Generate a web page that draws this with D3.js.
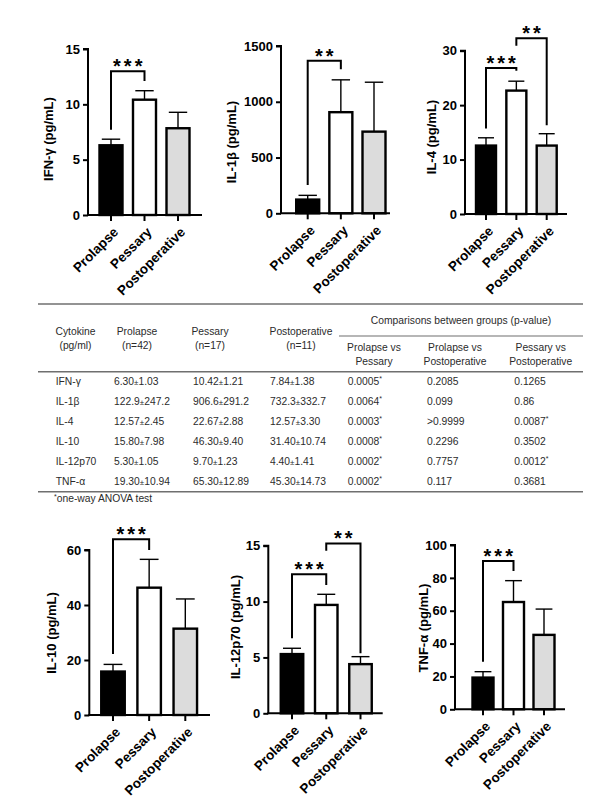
<!DOCTYPE html>
<html><head><meta charset="utf-8">
<script src="https://cdn.jsdelivr.net/npm/d3@7"></script>
<style>body{margin:0;background:#fff;} svg{display:block;}</style>
</head><body>
<svg id="c" width="600" height="799"></svg>
<script>
// ---------- DATA ----------
const groups = ["Prolapse", "Pessary", "Postoperative"];
const cytokines = ["IFN-γ", "IL-1β", "IL-4", "IL-10", "IL-12p70", "TNF-α"];
const yLabels = ["IFN-γ (pg/mL)", "IL-1β (pg/mL)", "IL-4 (pg/mL)", "IL-10 (pg/mL)", "IL-12p70 (pg/mL)", "TNF-α (pg/mL)"];
const barMeans = [
  [6.30, 10.42, 7.84],
  [122.9, 906.6, 732.3],
  [12.57, 22.67, 12.57],
  [15.80, 46.30, 31.40],
  [5.30, 9.70, 4.40],
  [19.30, 65.30, 45.30]
];
// upper error whiskers
const barErrors = [
  [0.55, 0.81, 1.44],
  [38, 290, 443],
  [1.43, 1.73, 2.18],
  [2.6, 10.3, 10.8],
  [0.52, 0.95, 0.67],
  [3.6, 13.0, 15.7]
];
const yMax = [15, 1500, 30, 60, 15, 100];
const yStep = [5, 500, 10, 20, 5, 20];
// significance brackets: from group a to b, bar height y, left leg end l, right leg end r (data units)
const sigBrackets = [
  [{a: 0, b: 1, y: 13.0, l: 7.7, r: 12.1, t: "***"}],
  [{a: 0, b: 1, y: 1368, l: 254, r: 1291, t: "**"}],
  [{a: 0, b: 1, y: 26.8, l: 15.7, r: 26.3, t: "***"}, {a: 1, b: 2, y: 32.3, l: 30.9, r: 16.3, t: "**"}],
  [{a: 0, b: 1, y: 63.9, l: 22.2, r: 60, t: "***"}],
  [{a: 0, b: 1, y: 12.44, l: 6.71, r: 11.48, t: "***"}, {a: 1, b: 2, y: 15.2, l: 14.55, r: 5.37, t: "**"}],
  [{a: 0, b: 1, y: 90.3, l: 29, r: 84.2, t: "***"}]
];
// table
const tableHeaders = [["Cytokine", "(pg/ml)"], ["Prolapse", "(n=42)"], ["Pessary", "(n=17)"], ["Postoperative", "(n=11)"]];
const compHeaders = [["Prolapse vs", "Pessary"], ["Prolapse vs", "Postoperative"], ["Pessary vs", "Postoperative"]];
const prolapseCol = ["6.30±1.03", "122.9±247.2", "12.57±2.45", "15.80±7.98", "5.30±1.05", "19.30±10.94"];
const pessaryCol = ["10.42±1.21", "906.6±291.2", "22.67±2.88", "46.30±9.40", "9.70±1.23", "65.30±12.89"];
const postopCol = ["7.84±1.38", "732.3±332.7", "12.57±3.30", "31.40±10.74", "4.40±1.41", "45.30±14.73"];
const pProlPess = ["0.0005", "0.0064", "0.0003", "0.0008", "0.0002", "0.0002"];
const pProlPost = ["0.2085", "0.099", ">0.9999", "0.2296", "0.7757", "0.117"];
const pPessPost = ["0.1265", "0.86", "0.0087", "0.3502", "0.0012", "0.3681"];
const barFills = ["#000000", "#ffffff", "#dcdcdc"];

// ---------- LAYOUT ----------
const layout = [
  {ax: 88, xEnd: 202, c0: 111, c2: 178, bw: 23, y0: 215, yT: 49, lx: 48, ly: 139},
  {ax: 281, xEnd: 390, c0: 307.7, c2: 374, bw: 23, y0: 213.3, yT: 46, lx: 231.7, ly: 142},
  {ax: 465, xEnd: 567, c0: 486, c2: 546.7, bw: 20, y0: 214, yT: 50.7, lx: 431.7, ly: 137},
  {ax: 89.3, xEnd: 210, c0: 113, c2: 185.3, bw: 23.5, y0: 715, yT: 550, lx: 51.7, ly: 633},
  {ax: 268.3, xEnd: 382.7, c0: 292, c2: 360.5, bw: 22.5, y0: 713.3, yT: 545.7, lx: 235, ly: 627},
  {ax: 455, xEnd: 565, c0: 483, c2: 544, bw: 21, y0: 709.3, yT: 545, lx: 423.3, ly: 628}
];
const FONT = "'Liberation Sans', Arial, sans-serif";
const svg = d3.select("#c");
svg.append("rect").attr("width", 600).attr("height", 799).attr("fill", "#fff");

layout.forEach((L, i) => {
  const g = svg.append("g");
  const x = d3.scalePoint().domain(groups).range([L.c0, L.c2]);
  const y = d3.scaleLinear().domain([0, yMax[i]]).range([L.y0, L.yT]);
  const data = groups.map((k, j) => ({k, m: barMeans[i][j], e: barErrors[i][j], f: barFills[j]}));

  // error bars (upper only)
  g.selectAll("line.err").data(data).enter().append("line")
    .attr("x1", d => x(d.k)).attr("x2", d => x(d.k))
    .attr("y1", d => y(d.m)).attr("y2", d => y(d.m + d.e))
    .attr("stroke", "#000").attr("stroke-width", 1.4);
  g.selectAll("line.cap").data(data).enter().append("line")
    .attr("x1", d => x(d.k) - L.bw * 0.4).attr("x2", d => x(d.k) + L.bw * 0.4)
    .attr("y1", d => y(d.m + d.e)).attr("y2", d => y(d.m + d.e))
    .attr("stroke", "#000").attr("stroke-width", 1.4);
  // bars
  g.selectAll("rect.bar").data(data).enter().append("rect")
    .attr("x", d => x(d.k) - L.bw / 2).attr("width", L.bw)
    .attr("y", d => y(d.m)).attr("height", d => y(0) - y(d.m))
    .attr("fill", d => d.f).attr("stroke", "#000").attr("stroke-width", 2.4);

  // y axis
  const yAxis = d3.axisLeft(y).tickValues(d3.range(0, yMax[i] + 1e-9, yStep[i])).tickSize(5).tickPadding(3).tickFormat(d3.format("d"));
  const ya = g.append("g").attr("transform", `translate(${L.ax},0)`).call(yAxis);
  ya.select(".domain").attr("stroke-width", 2).attr("d", `M-5,${L.yT}H0V${L.y0}`);
  ya.selectAll(".tick line").attr("stroke-width", 2);
  ya.selectAll(".tick text").attr("font-family", FONT).attr("font-size", 13).attr("font-weight", "bold").attr("fill", "#000");

  // x axis line
  g.append("line").attr("x1", L.ax - 1).attr("x2", L.xEnd).attr("y1", L.y0).attr("y2", L.y0)
    .attr("stroke", "#000").attr("stroke-width", 2);
  g.selectAll("line.xt").data(groups).enter().append("line")
    .attr("x1", d => x(d)).attr("x2", d => x(d)).attr("y1", L.y0).attr("y2", L.y0 + 6)
    .attr("stroke", "#000").attr("stroke-width", 2);
  g.selectAll("text.xl").data(groups).enter().append("text")
    .attr("transform", d => `translate(${x(d) + 8},${L.y0 + 18}) rotate(-45)`)
    .attr("text-anchor", "end").attr("font-family", FONT).attr("font-size", 13.5).attr("font-weight", "bold")
    .text(d => d);

  // y label
  g.append("text").attr("transform", `translate(${L.lx},${L.ly}) rotate(-90)`)
    .attr("text-anchor", "middle").attr("dy", "0.35em")
    .attr("font-family", FONT).attr("font-size", 13).attr("font-weight", "bold").text(yLabels[i]);

  // significance brackets
  sigBrackets[i].forEach(b => {
    const xa = x(groups[b.a]), xb = x(groups[b.b]);
    g.append("path").attr("d", `M${xa},${y(b.l)}V${y(b.y)}H${xb}V${y(b.r)}`)
      .attr("fill", "none").attr("stroke", "#000").attr("stroke-width", 2);
    g.append("text").attr("x", (xa + xb) / 2 + 1.5).attr("y", y(b.y) + 2)
      .attr("text-anchor", "middle").attr("font-family", FONT).attr("font-size", 20).attr("font-weight", "bold")
      .attr("letter-spacing", 3).text(b.t);
  });
});

// ---------- TABLE ----------
const T = svg.append("g").attr("font-family", FONT).attr("font-size", 10.3).attr("fill", "#2b2b2b");
const lineC = "#6f6f6f";
T.append("line").attr("x1", 38).attr("x2", 583).attr("y1", 304).attr("y2", 304).attr("stroke", lineC).attr("stroke-width", 1.6);
T.append("line").attr("x1", 38).attr("x2", 583).attr("y1", 371.7).attr("y2", 371.7).attr("stroke", lineC).attr("stroke-width", 1.6);
T.append("line").attr("x1", 38).attr("x2", 583).attr("y1", 491.7).attr("y2", 491.7).attr("stroke", lineC).attr("stroke-width", 1.6);
T.append("line").attr("x1", 339).attr("x2", 583).attr("y1", 336).attr("y2", 336).attr("stroke", lineC).attr("stroke-width", 1.2);

const headX = [75.5, 137, 210, 301];
tableHeaders.forEach((h, j) => {
  h.forEach((s, k) => T.append("text").attr("x", headX[j]).attr("y", 331.7 + k * 13.3).attr("dy", "0.35em")
    .attr("text-anchor", "middle").text(s));
});
T.append("text").attr("x", 461).attr("y", 320).attr("dy", "0.35em").attr("text-anchor", "middle")
  .text("Comparisons between groups (p-value)");
const compX = [374, 455, 540.7];
compHeaders.forEach((h, j) => {
  h.forEach((s, k) => T.append("text").attr("x", compX[j]).attr("y", 347.7 + k * 13.3).attr("dy", "0.35em")
    .attr("text-anchor", "middle").text(s));
});

const rowY = d3.scalePoint().domain(cytokines).range([381.7, 481.7]);
cytokines.forEach(c => T.append("text").attr("x", 55.7).attr("y", rowY(c)).attr("dy", "0.35em").text(c));

function pmText(sel, s) {
  const [a, b] = s.split("±");
  sel.append("tspan").text(a);
  sel.append("tspan").attr("font-size", 8).text("±");
  sel.append("tspan").text(b);
}
[[prolapseCol, 114], [pessaryCol, 193], [postopCol, 270]].forEach(([col, cx]) => {
  col.forEach((s, r) => {
    const t = T.append("text").attr("x", cx).attr("y", rowY(cytokines[r])).attr("dy", "0.35em");
    pmText(t, s);
  });
});
[[pProlPess, 347.7], [pProlPost, 427], [pPessPost, 514.3]].forEach(([col, cx]) => {
  col.forEach((s, r) => {
    const t = T.append("text").attr("x", cx).attr("y", rowY(cytokines[r])).attr("dy", "0.35em");
    t.append("tspan").text(s);
    const v = parseFloat(s.replace(">", ""));
    if (!s.startsWith(">") && v < 0.05) t.append("tspan").attr("font-size", 7).attr("dy", -4).text("*");
  });
});
const fn = T.append("text").attr("x", 54).attr("y", 501.7).attr("dy", "0.35em");
fn.append("tspan").attr("font-size", 7).attr("dy", -3).text("*");
fn.append("tspan").attr("dy", 3).text("one-way ANOVA test");
</script>
</body></html>
